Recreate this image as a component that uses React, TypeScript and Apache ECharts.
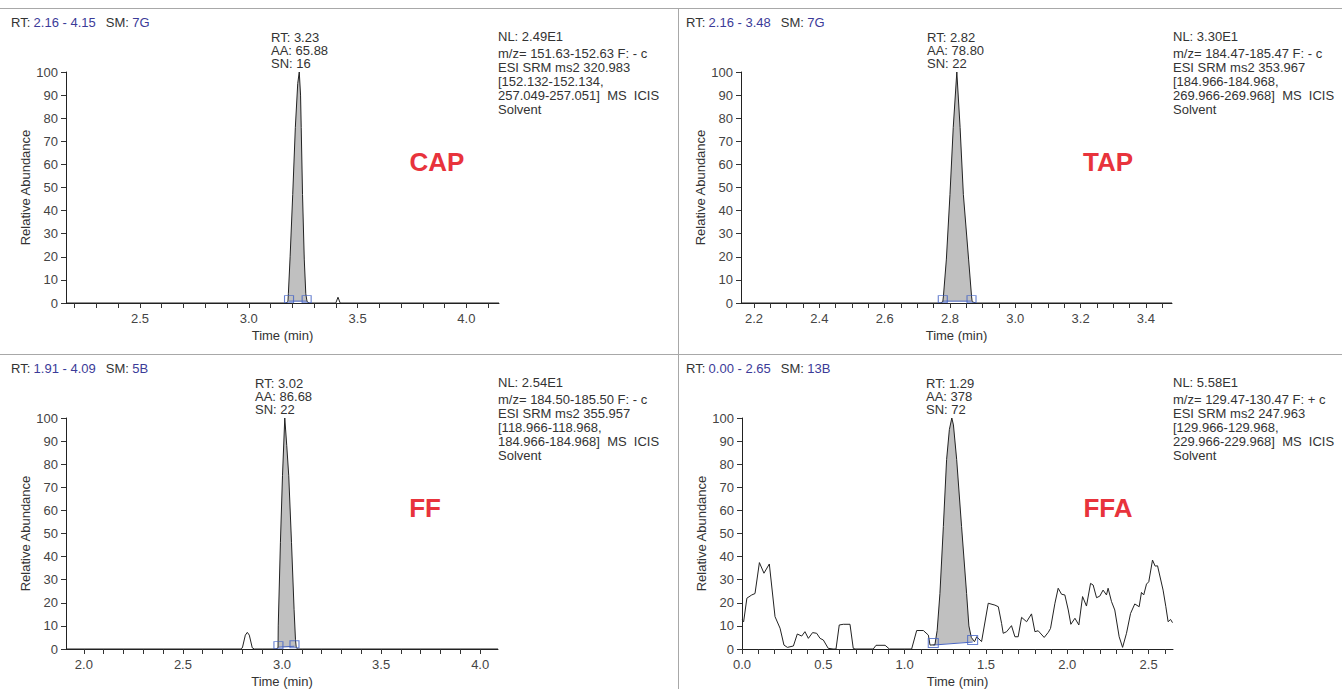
import React, { useEffect, useRef } from "react";
import * as echarts from "echarts";

type P = [number, number];

// ---------- data ----------
const capTrace: P[] = [
  [2.16, 0], [3.17, 0], [3.18, 0.5], [3.182, 4], [3.19, 20], [3.202, 47], [3.214, 76], [3.225, 95],
  [3.232, 100], [3.238, 90], [3.241, 76], [3.247, 47], [3.255, 19], [3.262, 4], [3.268, 0.5], [3.28, 0],
  [3.4, 0], [3.41, 2.5], [3.42, 0], [4.15, 0],
];
const capPeak: P[] = [
  [3.182, 0.8], [3.182, 4], [3.19, 20], [3.202, 47], [3.214, 76], [3.225, 95], [3.232, 100], [3.238, 90],
  [3.241, 76], [3.247, 47], [3.255, 19], [3.262, 4], [3.264, 0.8],
];
const capBounds: P[] = [[3.185, 0.8], [3.266, 0.8]];

const tapTrace: P[] = [
  [2.16, 0], [2.77, 0], [2.778, 0.5], [2.78, 3], [2.789, 19], [2.8, 47], [2.81, 76], [2.821, 100],
  [2.831, 76], [2.841, 47], [2.857, 19], [2.866, 3], [2.868, 0.5], [2.88, 0], [3.48, 0],
];
const tapPeak: P[] = [
  [2.779, 0.8], [2.78, 3], [2.789, 19], [2.8, 47], [2.81, 76], [2.821, 100], [2.831, 76], [2.841, 47],
  [2.857, 19], [2.866, 3], [2.867, 0.8],
];
const tapBounds: P[] = [[2.778, 0.8], [2.866, 0.8]];

const ffTrace: P[] = [
  [1.91, 0], [2.79, 0], [2.8, 0.5], [2.815, 6], [2.825, 7.2], [2.835, 6], [2.85, 0.5], [2.86, 0],
  [2.97, 0], [2.98, 0.5], [2.981, 10], [2.992, 46], [3.0025, 75], [3.014, 100], [3.024, 88], [3.034, 75],
  [3.048, 46], [3.061, 17], [3.068, 4], [3.072, 0.5], [3.08, 0], [4.09, 0],
];
const ffPeak: P[] = [
  [2.981, 0.8], [2.981, 10], [2.992, 46], [3.0025, 75], [3.014, 100], [3.024, 88], [3.034, 75],
  [3.048, 46], [3.061, 17], [3.068, 4], [3.07, 0.8],
];
const ffBounds: P[] = [[2.982, 0.8], [3.063, 1.2]];

const ffaTrace: P[] = [
  [0, 12.6], [0.01, 11.8], [0.03, 22], [0.06, 23.4], [0.08, 24], [0.107, 37.4], [0.135, 32.8],
  [0.168, 36.8], [0.203, 14], [0.234, 9], [0.258, 1.7], [0.279, 0.7], [0.316, 1.3], [0.34, 6.5],
  [0.367, 5.6], [0.387, 7.5], [0.408, 4.6], [0.434, 7.1], [0.459, 6.8], [0.48, 4.6], [0.5, 3.9],
  [0.53, 0.3], [0.56, 0], [0.578, 0], [0.598, 10.4], [0.623, 10.7], [0.664, 10.7], [0.684, 0.3],
  [0.695, 0], [0.807, 0], [0.824, 1.6], [0.88, 1.6], [0.906, 0], [1.043, 0], [1.074, 8], [1.115, 8],
  [1.146, 6], [1.156, 1.7], [1.186, 1.8], [1.2, 8], [1.217, 24], [1.238, 53], [1.258, 82], [1.275, 95],
  [1.29, 100], [1.3, 97], [1.32, 82], [1.35, 53], [1.381, 24], [1.395, 10], [1.41, 5], [1.422, 3.9],
  [1.43, 3.2], [1.443, 5.3], [1.473, 3.2], [1.514, 19.8], [1.555, 19], [1.576, 18.3], [1.596, 11.1],
  [1.606, 6.8], [1.627, 7.5], [1.657, 10.1], [1.678, 5.3], [1.698, 5.3], [1.719, 13.7], [1.75, 11.8],
  [1.78, 15.2], [1.801, 7.5], [1.821, 7.9], [1.858, 5], [1.883, 7.2], [1.897, 8.9], [1.924, 19.8],
  [1.944, 26.3], [1.965, 23.7], [1.985, 23.4], [2.006, 16.9], [2.022, 10.7], [2.047, 13.3],
  [2.071, 10.4], [2.094, 22.7], [2.118, 18.6], [2.143, 28.4], [2.159, 27.7], [2.18, 22.2], [2.2, 22.9],
  [2.22, 25.5], [2.241, 23.4], [2.251, 26.3], [2.272, 20.5], [2.292, 16.9], [2.319, 5.3], [2.34, 0.7],
  [2.364, 6.8], [2.389, 15.4], [2.415, 19.5], [2.442, 18.3], [2.456, 24.5], [2.47, 23.4], [2.487, 28.1],
  [2.501, 29.1], [2.524, 38.5], [2.54, 35.9], [2.555, 36], [2.589, 25.5], [2.606, 18.3], [2.62, 11.8],
  [2.635, 12.8], [2.647, 11.4],
];
const ffaPeak: P[] = [
  [1.186, 1.8], [1.2, 8], [1.217, 24], [1.238, 53], [1.258, 82], [1.275, 95], [1.29, 100], [1.3, 97],
  [1.32, 82], [1.35, 53], [1.381, 24], [1.395, 10], [1.41, 5], [1.422, 3.9], [1.43, 3.2],
];
const ffaBounds: P[] = [[1.176, 1.7], [1.418, 3.0]];

// tick labels
const capMajor = [2.5, 3.0, 3.5, 4.0];
const tapMajor = [2.2, 2.4, 2.6, 2.8, 3.0, 3.2, 3.4];
const ffMajor = [2.0, 2.5, 3.0, 3.5, 4.0];
const ffaMajor = [0.0, 0.5, 1.0, 1.5, 2.0, 2.5];

// text blocks
const headers = [
  ["2.16 - 4.15", "7G"],
  ["2.16 - 3.48", "7G"],
  ["1.91 - 4.09", "5B"],
  ["0.00 - 2.65", "13B"],
];
const peakNotes = [
  ["RT: 3.23", "AA: 65.88", "SN: 16"],
  ["RT: 2.82", "AA: 78.80", "SN: 22"],
  ["RT: 3.02", "AA: 86.68", "SN: 22"],
  ["RT: 1.29", "AA: 378", "SN: 72"],
];
const infoLines = [
  ["NL: 2.49E1", "m/z= 151.63-152.63 F: - c", "ESI SRM ms2 320.983", "[152.132-152.134,", "257.049-257.051]  MS  ICIS", "Solvent"],
  ["NL: 3.30E1", "m/z= 184.47-185.47 F: - c", "ESI SRM ms2 353.967", "[184.966-184.968,", "269.966-269.968]  MS  ICIS", "Solvent"],
  ["NL: 2.54E1", "m/z= 184.50-185.50 F: - c", "ESI SRM ms2 355.957", "[118.966-118.968,", "184.966-184.968]  MS  ICIS", "Solvent"],
  ["NL: 5.58E1", "m/z= 129.47-130.47 F: + c", "ESI SRM ms2 247.963", "[129.966-129.968,", "229.966-229.968]  MS  ICIS", "Solvent"],
];
const compounds = ["CAP", "TAP", "FF", "FFA"];

// ---------- layout ----------
const FONT = '"Liberation Sans", Arial, sans-serif';
const ticksFrom = (from: number, to: number, step: number) => {
  const out: number[] = [];
  const n = Math.round((to - from) / step);
  for (let i = 0; i <= n; i++) out.push(Math.round((from + i * step) * 1000) / 1000);
  return out;
};

const panels = [
  { trace: capTrace, peak: capPeak, bounds: capBounds, min: 2.16, max: 4.15, minor: ticksFrom(2.2, 4.1, 0.1), major: capMajor,
    grid: { left: 66, top: 72, width: 433, height: 231 }, ox: 0, oy: 0, noteX: 271, labelX: 437 },
  { trace: tapTrace, peak: tapPeak, bounds: tapBounds, min: 2.16, max: 3.48, minor: ticksFrom(2.2, 3.45, 0.05), major: tapMajor,
    grid: { left: 741, top: 72, width: 431, height: 231 }, ox: 675, oy: 0, noteX: 927, labelX: 1108 },
  { trace: ffTrace, peak: ffPeak, bounds: ffBounds, min: 1.91, max: 4.09, minor: ticksFrom(2.0, 4.0, 0.1), major: ffMajor,
    grid: { left: 66, top: 418, width: 432, height: 231 }, ox: 0, oy: 346, noteX: 255, labelX: 425 },
  { trace: ffaTrace, peak: ffaPeak, bounds: ffaBounds, min: 0, max: 2.65, minor: ticksFrom(0, 2.6, 0.1), major: ffaMajor,
    grid: { left: 742, top: 418, width: 431, height: 231 }, ox: 675, oy: 346, noteX: 926, labelX: 1108 },
];

export default function App() {
  const ref = useRef<HTMLDivElement>(null);
  useEffect(() => {
    if (!ref.current) return;
    const chart = echarts.init(ref.current, undefined, { renderer: "svg" });

    const grids: any[] = [];
    const xAxes: any[] = [];
    const yAxes: any[] = [];
    const series: any[] = [];
    const graphics: any[] = [];

    panels.forEach((p, i) => {
      grids.push({ ...p.grid, containLabel: false });
      xAxes.push({
        type: "value", gridIndex: i, min: p.min, max: p.max,
        axisLine: { show: true, onZero: false, lineStyle: { color: "#222", width: 1 } },
        axisTick: { show: true, length: 5, lineStyle: { color: "#333" }, customValues: p.minor },
        axisLabel: { customValues: p.major, formatter: (v: number) => v.toFixed(1), color: "#444", fontSize: 13, fontFamily: FONT, margin: 9 },
        splitLine: { show: false },
        name: "Time (min)", nameLocation: "middle", nameGap: 26,
        nameTextStyle: { color: "#333", fontSize: 13, fontFamily: FONT },
      });
      yAxes.push({
        type: "value", gridIndex: i, min: 0, max: 100, interval: 10,
        axisLine: { show: true, onZero: false, lineStyle: { color: "#222", width: 1 } },
        axisTick: { show: true, length: 5, lineStyle: { color: "#333" } },
        axisLabel: { color: "#444", fontSize: 13, fontFamily: FONT, margin: 8 },
        splitLine: { show: false },
        name: "Relative Abundance", nameLocation: "middle", nameGap: 32, nameRotate: 90,
        nameTextStyle: { color: "#333", fontSize: 13, fontFamily: FONT },
      });
      const peak = p.peak;
      series.push({
        type: "custom", xAxisIndex: i, yAxisIndex: i, silent: true, z: 1,
        data: [peak[0]],
        renderItem: (_params: any, api: any) => ({
          type: "polygon",
          shape: { points: peak.map((pt) => api.coord(pt)) },
          style: { fill: "#c0c0c0", stroke: "none" },
        }),
      });
      series.push({
        type: "line", xAxisIndex: i, yAxisIndex: i, data: p.bounds, showSymbol: false, silent: true, z: 2,
        lineStyle: { color: "#4a66c2", width: 1 },
      });
      series.push({
        type: "line", xAxisIndex: i, yAxisIndex: i, data: p.trace, showSymbol: false, silent: true, z: 3,
        lineStyle: { color: "#222", width: 1 },
      });
      series.push({
        type: "scatter", xAxisIndex: i, yAxisIndex: i, data: p.bounds, silent: true, z: 4,
        symbol: "rect", symbolSize: i === 3 ? [10, 9] : [9, 7], symbolOffset: [0, -2],
        itemStyle: { color: "rgba(0,0,0,0)", borderColor: "#4463c4", borderWidth: 1 },
      });

      // texts
      const [range, sm] = headers[i];
      graphics.push({
        type: "text", x: 11 + p.ox, y: 22 + p.oy,
        style: {
          text: `{k|RT:} {b|${range}}   {k|SM:} {b|${sm}}`,
          verticalAlign: "middle",
          rich: {
            k: { fill: "#333", fontSize: 13, fontFamily: FONT },
            b: { fill: "#3b3b98", fontSize: 13, fontFamily: FONT },
          },
        },
      });
      peakNotes[i].forEach((t, j) => {
        graphics.push({
          type: "text", x: p.noteX, y: 37 + p.oy + j * 13,
          style: { text: t, fill: "#333", fontSize: 13, fontFamily: FONT, verticalAlign: "middle" },
        });
      });
      infoLines[i].forEach((t, j) => {
        graphics.push({
          type: "text", x: 498 + p.ox, y: 36 + p.oy + (j === 0 ? 0 : 3 + j * 14),
          style: { text: t, fill: "#333", fontSize: 13, fontFamily: FONT, verticalAlign: "middle" },
        });
      });
      graphics.push({
        type: "text", x: p.labelX, y: 162 + p.oy,
        style: { text: compounds[i], fill: "#e8333c", fontSize: 26, fontWeight: "bold", fontFamily: FONT, align: "center", verticalAlign: "middle" },
      });
    });

    graphics.push(
      { type: "line", shape: { x1: 0, y1: 8.5, x2: 1342, y2: 8.5 }, style: { stroke: "#a8a8a8", lineWidth: 1 } },
      { type: "line", shape: { x1: 0, y1: 354.5, x2: 1342, y2: 354.5 }, style: { stroke: "#a8a8a8", lineWidth: 1 } },
      { type: "line", shape: { x1: 678.5, y1: 8, x2: 678.5, y2: 689 }, style: { stroke: "#a8a8a8", lineWidth: 1 } },
    );

    chart.setOption({
      animation: false,
      backgroundColor: "#ffffff",
      grid: grids,
      xAxis: xAxes,
      yAxis: yAxes,
      series,
      graphic: graphics,
    });
    return () => chart.dispose();
  }, []);
  return (
    <div
      ref={ref}
      style={{ position: "fixed", left: 0, top: 0, width: 1342, height: 689, background: "#fff" }}
    />
  );
}
